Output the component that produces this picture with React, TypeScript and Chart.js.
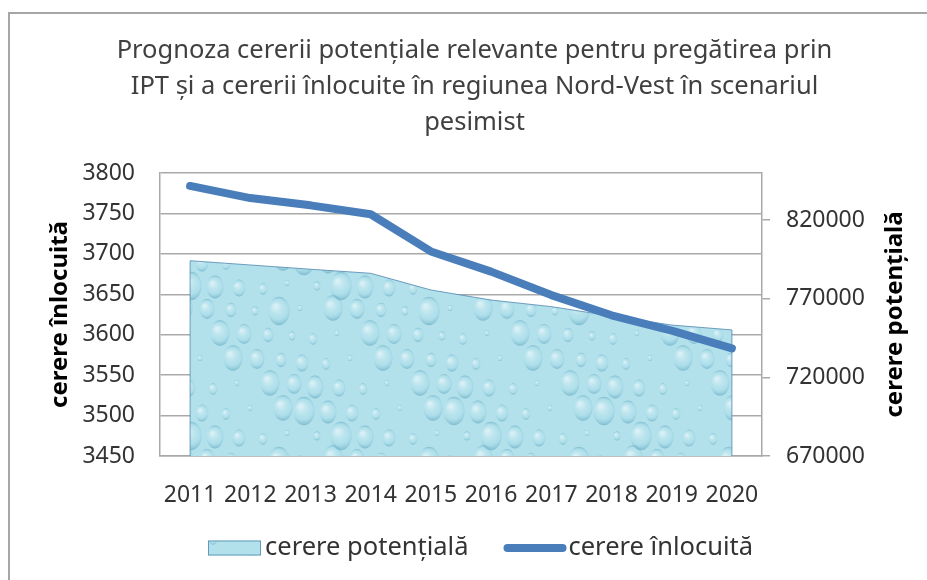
import React, { useEffect, useRef } from "react";
import { Chart, registerables } from "chart.js";

Chart.register(...registerables);

const years = ["2011", "2012", "2013", "2014", "2015", "2016", "2017", "2018", "2019", "2020"];
const cerereInlocuita = [3784, 3769, 3760, 3749, 3703, 3678, 3649, 3624, 3605, 3583];
const cererePotentiala = [794200, 791500, 788800, 786200, 775600, 769200, 765000, 759000, 753300, 750200];
const rightTicks = [670000, 720000, 770000, 820000];
const titleLines = [
  "Prognoza cererii potențiale relevante pentru pregătirea prin",
  "IPT și a cererii înlocuite în regiunea Nord-Vest în scenariul",
  "pesimist",
];
const leftTitle = "cerere înlocuită";
const rightTitle = "cerere potențială";
const labelPotentiala = "cerere potențială";
const labelInlocuita = "cerere înlocuită";

const FONT = "'Noto Sans', 'DejaVu Sans', sans-serif";
const GRID = "#a9a9a9";
const LINE_BLUE = "#4a7ebb";
const AREA_EDGE = "rgba(80,135,175,0.8)";
const TEXT = "#333333";

function makeWaterPattern(): CanvasPattern | string {
  const size = 150;
  const tile = document.createElement("canvas");
  tile.width = size;
  tile.height = size;
  const c = tile.getContext("2d");
  if (!c) return "#b0e0eb";
  c.fillStyle = "#b2e1ec";
  c.fillRect(0, 0, size, size);
  const drop = (cx: number, cy: number, r: number) => {
    const rg = c.createRadialGradient(cx - r * 0.25, cy - r * 0.35, r * 0.1, cx, cy, r);
    rg.addColorStop(0, "rgba(255,255,255,0.5)");
    rg.addColorStop(0.65, "rgba(165,218,230,0.25)");
    rg.addColorStop(1, "rgba(60,140,170,0.45)");
    c.fillStyle = rg;
    c.beginPath();
    c.ellipse(cx, cy, r * 0.75, r, 0, 0, Math.PI * 2);
    c.fill();
  };
  for (let i = 0; i < 6; i++) {
    for (let j = 0; j < 6; j++) {
      const k = (i * 7 + j * 11) % 9;
      const cx = i * 25 + (j % 2) * 12 + ((k * 5) % 9);
      const cy = j * 25 + 8 + ((k * 3) % 7);
      const r = 3 + k * 1.4;
      // draw wrapped copies so the tile repeats seamlessly
      for (const dx of [-size, 0, size]) {
        for (const dy of [-size, 0, size]) {
          drop(cx + dx, cy + dy, r);
        }
      }
    }
  }
  const p = c.createPattern(tile, "repeat");
  return p || "#b0e0eb";
}

const extrasPlugin = {
  id: "extras",
  afterLayout(chart: any) {
    const tb = chart.titleBlock;
    if (tb) {
      tb.left += 11;
      tb.right += 11;
    }
  },
  afterDatasetDraw(chart: any, args: any) {
    if (args.index !== 0) return;
    const meta = chart.getDatasetMeta(0);
    const pts = meta.data;
    if (!pts || !pts.length) return;
    const y1 = chart.scales.y1;
    const base = y1.getPixelForValue(y1.min);
    const ctx = chart.ctx;
    ctx.save();
    ctx.strokeStyle = AREA_EDGE;
    ctx.lineWidth = 1;
    const first = pts[0];
    const last = pts[pts.length - 1];
    ctx.beginPath();
    ctx.moveTo(first.x, first.y);
    ctx.lineTo(first.x, base);
    ctx.moveTo(last.x, last.y);
    ctx.lineTo(last.x, base);
    ctx.stroke();
    ctx.restore();
  },
  afterDraw(chart: any) {
    const ctx = chart.ctx;
    const area = chart.chartArea;
    // right axis title, reading bottom to top like the left one
    ctx.save();
    ctx.translate(895, (area.top + area.bottom) / 2);
    ctx.rotate(-Math.PI / 2);
    ctx.font = `bold 24px ${FONT}`;
    ctx.fillStyle = "#000000";
    ctx.textAlign = "center";
    ctx.textBaseline = "middle";
    ctx.fillText(rightTitle, 0, 0);
    ctx.restore();

    // legend
    const ds = chart.data.datasets;
    const legendFont = `25.5px ${FONT}`;
    ctx.save();
    ctx.font = legendFont;
    const t1 = ctx.measureText(ds[0].label).width;
    const t2 = ctx.measureText(ds[1].label).width;
    const sw1 = 53;
    const sw2 = 63;
    const gap1 = 4;
    const gap2 = 2;
    const itemGap = 35;
    const total = sw1 + gap1 + t1 + itemGap + sw2 + gap2 + t2;
    const cy = 548;
    let x = 480.5 - total / 2;
    ctx.fillStyle = ds[0].backgroundColor;
    ctx.fillRect(x, cy - 7.5, sw1, 15);
    ctx.strokeStyle = AREA_EDGE;
    ctx.lineWidth = 1;
    ctx.strokeRect(x + 0.5, cy - 7, sw1 - 1, 14);
    x += sw1 + gap1;
    ctx.fillStyle = TEXT;
    ctx.textAlign = "left";
    ctx.textBaseline = "middle";
    ctx.fillText(ds[0].label, x, cy);
    x += t1 + itemGap;
    ctx.strokeStyle = ds[1].borderColor;
    ctx.lineWidth = 8;
    ctx.lineCap = "round";
    ctx.beginPath();
    ctx.moveTo(x + 4, cy);
    ctx.lineTo(x + sw2 - 4, cy);
    ctx.stroke();
    x += sw2 + gap2;
    ctx.fillText(ds[1].label, x, cy);
    ctx.restore();
  },
};

export default function App() {
  const ref = useRef<HTMLCanvasElement | null>(null);

  useEffect(() => {
    const canvas = ref.current;
    if (!canvas) return;
    const pattern = makeWaterPattern();
    const tickFont = { family: FONT, size: 23 };

    const chart = new Chart(canvas, {
      type: "line",
      data: {
        labels: years,
        datasets: [
          {
            label: labelPotentiala,
            data: cererePotentiala,
            yAxisID: "y1",
            backgroundColor: pattern as any,
            borderColor: AREA_EDGE,
            borderWidth: 1,
            fill: "start",
            pointRadius: 0,
            tension: 0,
            order: 1,
          },
          {
            label: labelInlocuita,
            data: cerereInlocuita,
            yAxisID: "y",
            borderColor: LINE_BLUE,
            backgroundColor: LINE_BLUE,
            borderWidth: 8,
            borderCapStyle: "round",
            borderJoinStyle: "round",
            fill: false,
            pointRadius: 0,
            tension: 0,
            order: 0,
          },
        ],
      },
      options: {
        responsive: false,
        animation: false,
        events: [],
        layout: { padding: { left: 0, right: 0, top: 0, bottom: 53 } },
        plugins: {
          title: {
            display: true,
            text: titleLines,
            color: "#404040",
            font: { family: FONT, size: 25.5, weight: "normal", lineHeight: "36px" } as any,
            padding: { top: 33, bottom: 32 },
          },
          legend: { display: false },
          tooltip: { enabled: false },
        },
        scales: {
          x: {
            type: "category",
            offset: true,
            grid: { display: false },
            border: { display: true, color: GRID, width: 1.5 },
            ticks: { color: TEXT, font: tickFont, padding: 18, maxRotation: 0, autoSkip: false },
            afterFit: (s: any) => {
              s.height = 71;
            },
          },
          y: {
            position: "left",
            min: 3450,
            max: 3800,
            ticks: { stepSize: 50, callback: (v: any) => String(v), padding: 25, color: TEXT, font: tickFont },
            grid: { color: GRID, lineWidth: 1.5, drawTicks: false },
            border: { display: true, color: GRID, width: 1.5 },
            title: {
              display: true,
              text: leftTitle,
              color: "#000000",
              font: { family: FONT, size: 24, weight: "bold" },
              padding: { top: 46, bottom: 0 },
            },
            afterFit: (s: any) => {
              s.width = 160;
            },
          },
          y1: {
            position: "right",
            min: 670000,
            max: 850000,
            afterBuildTicks: (s: any) => {
              s.ticks = rightTicks.map((v) => ({ value: v }));
            },
            ticks: { callback: (v: any) => String(v), padding: 16, color: TEXT, font: tickFont },
            grid: { drawOnChartArea: false, drawTicks: true, tickLength: 8, color: GRID, lineWidth: 1.5 },
            border: { display: true, color: GRID, width: 1.5 },
            afterFit: (s: any) => {
              s.width = 165;
            },
          },
        },
      } as any,
      plugins: [extrasPlugin],
    });
    return () => chart.destroy();
  }, []);

  return (
    <div style={{ position: "fixed", left: 0, top: 0, width: 927, height: 580, background: "#ffffff", overflow: "hidden" }}>
      <div
        style={{
          position: "absolute",
          left: 8,
          top: 12,
          width: 917,
          height: 566,
          borderLeft: "2px solid #a6a6a6",
          borderTop: "2px solid #a6a6a6",
        }}
      />
      <canvas ref={ref} width={927} height={580} style={{ position: "absolute", left: 0, top: 0, width: 927, height: 580 }} />
    </div>
  );
}
